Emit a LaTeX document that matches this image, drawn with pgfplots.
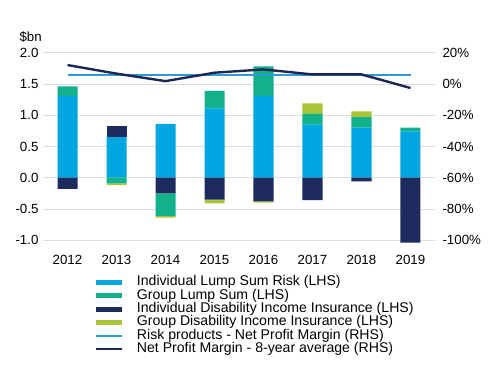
\documentclass[border=0pt]{standalone}
\usepackage{fontspec}
\setmainfont{Liberation Sans}
\usepackage{pgfplots}
\pgfplotsset{compat=1.18}
\definecolor{cBlue}{HTML}{00A6E0}
\definecolor{cGreen}{HTML}{13B08C}
\definecolor{cNavy}{HTML}{1E2B5E}
\definecolor{cLime}{HTML}{A9C539}
\definecolor{cLine}{HTML}{2E9BD6}
\definecolor{cDark}{HTML}{1D2756}
\definecolor{cGrid}{HTML}{DDDDDD}
\pgfplotsset{
  base/.style={
    scale only axis, width=392pt, height=190.6pt,
    at={(43pt,131.7pt)}, anchor=south west,
    xmin=-0.5, xmax=7.5,
    axis line style={draw=none}, tick style={draw=none},
    font=\fontsize{13.3}{15}\selectfont,
    clip=false,
  },
  barax/.style={
    base, ymin=-1.05, ymax=2.0,
    ybar stacked, bar width=20pt,
    xtick={0,...,7},
    xticklabels={2012,2013,2014,2015,2016,2017,2018,2019},
    xticklabel style={yshift=-8pt},
    ytick={-1,-0.5,0,0.5,1,1.5,2},
    yticklabel style={xshift=-1pt},
    /pgf/number format/assume math mode=true,
    /pgf/number format/fixed, /pgf/number format/fixed zerofill,
    /pgf/number format/precision=1,
  },
}
\begin{document}
\begin{tikzpicture}[x=1pt,y=1pt]
\useasboundingbox (0,0) rectangle (500,375);
% positive parts of the stacks
\begin{axis}[barax, ymajorgrids, grid style={cGrid, line width=0.8pt}]
\addplot[fill=cBlue, draw=none] coordinates {(0,1.31) (1,0.65) (2,0.86) (3,1.11) (4,1.31) (5,0.85) (6,0.80) (7,0.74)};
\addplot[fill=cNavy, draw=none] coordinates {(0,0) (1,0.18) (2,0) (3,0) (4,0) (5,0) (6,0) (7,0)};
\addplot[fill=cGreen, draw=none] coordinates {(0,0.15) (1,0) (2,0) (3,0.28) (4,0.47) (5,0.17) (6,0.17) (7,0.06)};
\addplot[fill=cLime, draw=none] coordinates {(0,0) (1,0) (2,0) (3,0) (4,0) (5,0.17) (6,0.09) (7,0)};
\end{axis}
% negative parts of the stacks
\begin{axis}[barax, xticklabels={}, yticklabels={}]
\addplot[fill=cNavy, draw=none] coordinates {(0,-0.18) (1,0) (2,-0.25) (3,-0.35) (4,-0.38) (5,-0.36) (6,-0.06) (7,-1.04)};
\addplot[fill=cGreen, draw=none] coordinates {(0,0) (1,-0.09) (2,-0.36) (3,0) (4,0) (5,0) (6,0) (7,0)};
\addplot[fill=cLime, draw=none] coordinates {(0,0) (1,-0.03) (2,-0.03) (3,-0.06) (4,-0.02) (5,0) (6,0) (7,0)};
\end{axis}
% right axis with margins
\begin{axis}[base, ymin=-102, ymax=20,
  axis x line=none, axis y line*=right,
  ytick={-100,-80,-60,-40,-20,0,20},
  yticklabel={\pgfmathprintnumber{\tick}\%},
  /pgf/number format/assume math mode=true,
  yticklabel style={anchor=west, xshift=4pt},
  legend image code/.code={\draw[#1] (0pt,0pt) -- (26pt,0pt);},
  legend style={at={(0.130,-0.174)}, anchor=north west, draw=none, fill=none,
    inner sep=0pt, outer sep=0pt, row sep=1.3pt,
    font=\fontsize{14.1}{15}\selectfont,
    nodes={inner sep=0pt, text height=9.5pt, text depth=2.5pt},
    /tikz/every odd column/.append style={column sep=12pt},
    cells={anchor=west}},
]
\addlegendimage{cBlue, line width=5pt}
\addlegendentry{Individual Lump Sum Risk (LHS)}
\addlegendimage{cGreen, line width=5pt}
\addlegendentry{Group Lump Sum (LHS)}
\addlegendimage{cNavy, line width=5pt}
\addlegendentry{Individual Disability Income Insurance (LHS)}
\addlegendimage{cLime, line width=5pt}
\addlegendentry{Group Disability Income Insurance (LHS)}
\addplot[cLine, line width=2pt] coordinates {(0,5.6) (1,5.6) (2,5.6) (3,5.6) (4,5.6) (5,5.6) (6,5.6) (7,5.6)};
\addlegendentry{Risk products - Net Profit Margin (RHS)}
\addplot[cDark, line width=2.4pt] coordinates {(0,12.1) (1,6.6) (2,1.8) (3,7.2) (4,9.3) (5,6.1) (6,6.1) (7,-2.6)};
\addlegendentry{Net Profit Margin - 8-year average (RHS)}
\end{axis}
\node[anchor=west, font=\fontsize{13.3}{15}\selectfont] at (16,338) {\$bn};
\end{tikzpicture}
\end{document}
